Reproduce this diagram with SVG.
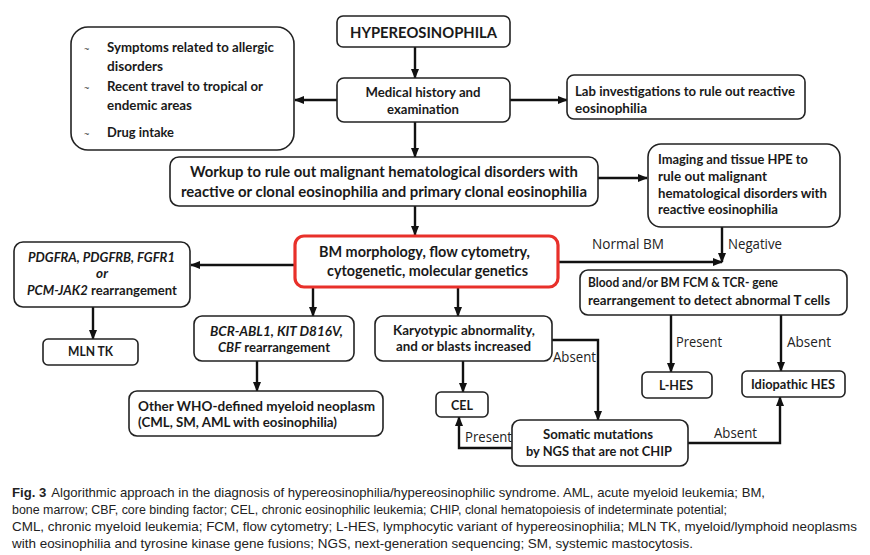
<svg xmlns="http://www.w3.org/2000/svg" width="870" height="555" viewBox="0 0 870 555">
<style>
.box{fill:#fff;stroke:#222;stroke-width:1.6}
.red{fill:#fff;stroke:#e8302a;stroke-width:3.2}
.t{font-family:Lato,"Open Sans","Liberation Sans",sans-serif;font-weight:bold;font-size:13.5px;fill:#1a1a1a}
.tb{font-family:Lato,"Open Sans","Liberation Sans",sans-serif;font-weight:bold;font-size:15px;fill:#1a1a1a}
.i{font-style:italic}
.m{text-anchor:middle}
.lab{font-family:"Open Sans",Lato,"Liberation Sans",sans-serif;font-size:14px;fill:#222}
.tl{font-family:"Liberation Sans",sans-serif;font-size:9px;fill:#333}
.cap{font-family:"Liberation Sans",Arial,sans-serif;font-size:13px;fill:#222}
.conn path{fill:none;stroke:#111;stroke-width:2.4;marker-end:url(#ah)}
</style>
<defs>
<marker id="ah" markerUnits="userSpaceOnUse" markerWidth="10" markerHeight="8" refX="9" refY="4" orient="auto">
<path d="M0,0 L10,4 L0,8 z" fill="#111"/>
</marker>
</defs>
<rect width="870" height="555" fill="#fff"/>

<g class="conn" id="connectors">
<path d="M415,47 V78"/>
<path d="M337,100 H295"/>
<path d="M510,100 H567"/>
<path d="M415,122 V157"/>
<path d="M598,178 H647"/>
<path d="M415,206 V235"/>
<path d="M295,265 H191"/>
<path d="M558,262 H722"/>
<path d="M722,227 V262"/>
<path d="M93,307 V339"/>
<path d="M313,287 V316"/>
<path d="M458,287 V316"/>
<path d="M257,361 V391"/>
<path d="M463,361 V392"/>
<path d="M552,340 H598 V420"/>
<path d="M512,448 H459 V417"/>
<path d="M671,315 V372"/>
<path d="M781,315 V371"/>
<path d="M688,443 H780 V397"/>
</g>

<g id="labels">
<text class="lab" x="592" y="249" textLength="72" lengthAdjust="spacingAndGlyphs">Normal BM</text>
<text class="lab" x="728" y="249" textLength="54" lengthAdjust="spacingAndGlyphs">Negative</text>
<text class="lab" x="553" y="362" textLength="43" lengthAdjust="spacingAndGlyphs">Absent</text>
<text class="lab" x="465" y="442" textLength="47" lengthAdjust="spacingAndGlyphs">Present</text>
<text class="lab" x="676" y="347" textLength="46" lengthAdjust="spacingAndGlyphs">Present</text>
<text class="lab" x="787" y="347" textLength="44" lengthAdjust="spacingAndGlyphs">Absent</text>
<text class="lab" x="714" y="438" textLength="43" lengthAdjust="spacingAndGlyphs">Absent</text>
</g>

<g id="hyper">
<rect class="box" x="337" y="16" width="173" height="31" rx="6"/>
<text class="tb m" x="423.5" y="38" font-size="16" textLength="147" lengthAdjust="spacingAndGlyphs">HYPEREOSINOPHILA</text>
</g>

<g id="history">
<rect class="box" x="337" y="78" width="173" height="44" rx="7"/>
<text class="t m" x="423" y="97" textLength="115" lengthAdjust="spacingAndGlyphs">Medical history and</text>
<text class="t m" x="423" y="114" textLength="72" lengthAdjust="spacingAndGlyphs">examination</text>
</g>

<g id="symptoms">
<rect class="box" x="71" y="27" width="223" height="123" rx="17"/>
<text class="tl" x="84" y="52">~</text>
<text class="tl" x="84" y="91">~</text>
<text class="tl" x="84" y="137">~</text>
<text class="t" x="107" y="52" textLength="167" lengthAdjust="spacingAndGlyphs">Symptoms related to allergic</text>
<text class="t" x="107" y="71" textLength="56" lengthAdjust="spacingAndGlyphs">disorders</text>
<text class="t" x="107" y="91" textLength="156" lengthAdjust="spacingAndGlyphs">Recent travel to tropical or</text>
<text class="t" x="107" y="110" textLength="85" lengthAdjust="spacingAndGlyphs">endemic areas</text>
<text class="t" x="107" y="137" textLength="67" lengthAdjust="spacingAndGlyphs">Drug intake</text>
</g>

<g id="lab">
<rect class="box" x="567" y="75" width="238" height="44" rx="7"/>
<text class="t" x="575" y="96" textLength="220" lengthAdjust="spacingAndGlyphs">Lab investigations to rule out reactive</text>
<text class="t" x="575" y="113" textLength="72" lengthAdjust="spacingAndGlyphs">eosinophilia</text>
</g>

<g id="workup">
<rect class="box" x="170" y="157" width="428" height="49" rx="9"/>
<text class="tb" x="190" y="177" textLength="388" lengthAdjust="spacingAndGlyphs">Workup to rule out malignant hematological disorders with</text>
<text class="tb" x="181" y="197" textLength="406" lengthAdjust="spacingAndGlyphs">reactive or clonal eosinophilia and primary clonal eosinophilia</text>
</g>

<g id="imaging">
<rect class="box" x="648" y="144" width="192" height="83" rx="13"/>
<text class="t" x="658" y="164" textLength="150" lengthAdjust="spacingAndGlyphs">Imaging and tissue HPE to</text>
<text class="t" x="658" y="181" textLength="109" lengthAdjust="spacingAndGlyphs">rule out malignant</text>
<text class="t" x="658" y="198" textLength="169" lengthAdjust="spacingAndGlyphs">hematological disorders with</text>
<text class="t" x="658" y="214" textLength="120" lengthAdjust="spacingAndGlyphs">reactive eosinophilia</text>
</g>

<g id="bm">
<rect class="red" x="295" y="236" width="263" height="51" rx="9"/>
<text class="tb m" x="424.5" y="257" textLength="211" lengthAdjust="spacingAndGlyphs">BM morphology, flow cytometry,</text>
<text class="tb m" x="427.5" y="276" textLength="201" lengthAdjust="spacingAndGlyphs">cytogenetic, molecular genetics</text>
</g>

<g id="pdgfra">
<rect class="box" x="14" y="242" width="176" height="65" rx="9"/>
<text class="t i m" x="101.5" y="262" textLength="147" lengthAdjust="spacingAndGlyphs">PDGFRA, PDGFRB, FGFR1</text>
<text class="t i m" x="102" y="278">or</text>
<text class="t m" x="102" y="295" textLength="150" lengthAdjust="spacingAndGlyphs"><tspan class="i">PCM-JAK2</tspan> rearrangement</text>
</g>

<g id="mlntk">
<rect class="box" x="43" y="339" width="95" height="26" rx="5"/>
<text class="t m" x="90.5" y="356" textLength="45" lengthAdjust="spacingAndGlyphs">MLN TK</text>
</g>

<g id="blood">
<rect class="box" x="580" y="270" width="267" height="45" rx="8"/>
<text class="t" x="588" y="287" textLength="190" lengthAdjust="spacingAndGlyphs">Blood and/or BM FCM &amp; TCR- gene</text>
<text class="t" x="588" y="305" textLength="242" lengthAdjust="spacingAndGlyphs">rearrangement to detect abnormal T cells</text>
</g>

<g id="bcr">
<rect class="box" x="194" y="316" width="160" height="45" rx="8"/>
<text class="t i m" x="276.5" y="336" textLength="133" lengthAdjust="spacingAndGlyphs">BCR-ABL1, KIT D816V,</text>
<text class="t m" x="274" y="352" textLength="112" lengthAdjust="spacingAndGlyphs"><tspan class="i">CBF</tspan> rearrangement</text>
</g>

<g id="karyo">
<rect class="box" x="375" y="316" width="177" height="45" rx="8"/>
<text class="t m" x="464" y="335" textLength="142" lengthAdjust="spacingAndGlyphs">Karyotypic abnormality,</text>
<text class="t m" x="463.5" y="351" textLength="135" lengthAdjust="spacingAndGlyphs">and or blasts increased</text>
</g>

<g id="lhes">
<rect class="box" x="642" y="372" width="70" height="26" rx="5"/>
<text class="t m" x="676" y="390" textLength="34" lengthAdjust="spacingAndGlyphs">L-HES</text>
</g>

<g id="idiopathic">
<rect class="box" x="742" y="371" width="103" height="26" rx="5"/>
<text class="t m" x="793" y="389" textLength="84" lengthAdjust="spacingAndGlyphs">Idiopathic HES</text>
</g>

<g id="otherwho">
<rect class="box" x="129" y="391" width="254" height="45" rx="8"/>
<text class="t" x="138" y="411" textLength="237" lengthAdjust="spacingAndGlyphs">Other WHO-defined myeloid neoplasm</text>
<text class="t" x="138" y="427" textLength="199" lengthAdjust="spacingAndGlyphs">(CML, SM, AML with eosinophilia)</text>
</g>

<g id="cel">
<rect class="box" x="436" y="392" width="52" height="25" rx="5"/>
<text class="t m" x="462" y="410" textLength="22" lengthAdjust="spacingAndGlyphs">CEL</text>
</g>

<g id="somatic">
<rect class="box" x="512" y="420" width="176" height="46" rx="8"/>
<text class="t m" x="598" y="439" textLength="110" lengthAdjust="spacingAndGlyphs">Somatic mutations</text>
<text class="t m" x="599" y="456" textLength="146" lengthAdjust="spacingAndGlyphs">by NGS that are not CHIP</text>
</g>

<g id="caption">
<text class="cap" x="12" y="497" textLength="753" lengthAdjust="spacingAndGlyphs"><tspan font-weight="bold">Fig. 3</tspan><tspan dx="5">Algorithmic approach in the diagnosis of hypereosinophilia/hypereosinophilic syndrome. AML, acute myeloid leukemia; BM,</tspan></text>
<text class="cap" x="12" y="514" textLength="715" lengthAdjust="spacingAndGlyphs">bone marrow; CBF, core binding factor; CEL, chronic eosinophilic leukemia; CHIP, clonal hematopoiesis of indeterminate potential;</text>
<text class="cap" x="12" y="531" textLength="845" lengthAdjust="spacingAndGlyphs">CML, chronic myeloid leukemia; FCM, flow cytometry; L-HES, lymphocytic variant of hypereosinophilia; MLN TK, myeloid/lymphoid neoplasms</text>
<text class="cap" x="12" y="548" textLength="681" lengthAdjust="spacingAndGlyphs">with eosinophilia and tyrosine kinase gene fusions; NGS, next-generation sequencing; SM, systemic mastocytosis.</text>
</g>
</svg>
